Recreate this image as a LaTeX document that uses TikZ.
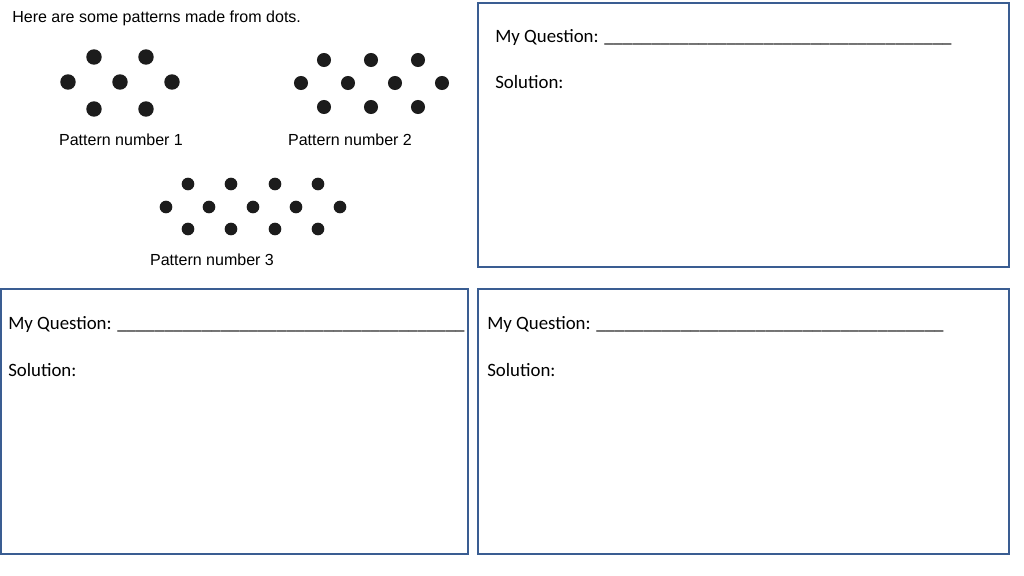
\documentclass[tikz,border=0pt]{standalone}
\usepackage{fontspec}
\setmainfont{Carlito}
\newfontfamily\arialfont{Liberation Sans}
\usetikzlibrary{positioning}

\definecolor{boxblue}{HTML}{3A5D92}
\definecolor{dotgrey}{HTML}{1C1C1C}

\newcommand{\blankline}{\_\_\_\_\_\_\_\_\_\_\_\_\_\_\_\_\_\_\_\_\_\_\_\_\_\_\_\_\_\_\_\_\_\_\_\_\_}

\tikzset{
  qbox/.style={draw=boxblue,line width=1.8pt},
  pdot/.style={circle,fill=dotgrey,inner sep=0pt},
  plabel/.style={anchor=base,inner sep=0pt,font=\arialfont\fontsize{11.4}{13}\selectfont},
  qtext/.style={anchor=base west,inner sep=0pt,font=\fontsize{13.4}{16}\selectfont}
}

\begin{document}
\begin{tikzpicture}[x=0.025cm,y=-0.025cm]
    \useasboundingbox (0,0) rectangle (1024,576);

    % title
    \node (title) [plabel,anchor=base west] at (12,23) {Here are some patterns made from dots.};

    % pattern 1
    \foreach \i/\x in {1/94,2/146} {
      \node (pa\i) [pdot,minimum size=11pt] at (\x,57) {};
      \node (pc\i) [pdot,minimum size=11pt] at (\x,109) {};
    }
    \foreach \i/\x in {1/68,2/120,3/172}
      \node (pb\i) [pdot,minimum size=11pt] at (\x,82) {};
    \node (lab1) [plabel] at (121,146) {Pattern number 1};

    % pattern 2
    \foreach \i/\x in {1/324,2/371,3/418} {
      \node (qa\i) [pdot,minimum size=10pt] at (\x,60) {};
      \node (qc\i) [pdot,minimum size=10pt] at (\x,107) {};
    }
    \foreach \i/\x in {1/301,2/348,3/395,4/442}
      \node (qb\i) [pdot,minimum size=10pt] at (\x,83) {};
    \node (lab2) [plabel] at (350,146) {Pattern number 2};

    % pattern 3
    \foreach \i/\x in {1/188,2/231,3/275,4/318} {
      \node (ra\i) [pdot,minimum size=9pt] at (\x,184) {};
      \node (rc\i) [pdot,minimum size=9pt] at (\x,229) {};
    }
    \foreach \i/\x in {1/166,2/209,3/253,4/296,5/340}
      \node (rb\i) [pdot,minimum size=9pt] at (\x,207) {};
    \node (lab3) [plabel] at (212,266) {Pattern number 3};

    % question boxes
    \draw[qbox] (478,3) rectangle (1009,267);
    \draw[qbox] (1,289) rectangle (468,554);
    \draw[qbox] (478,289) rectangle (1009,554);

    \node (q1) [qtext] at (495,43) {My Question: \blankline};
    \node (s1) [qtext] at (495,89) {Solution:};
    \node (q2) [qtext] at (8,330) {My Question: \blankline};
    \node (s2) [qtext] at (8,376) {Solution:};
    \node (q3) [qtext] at (487,330) {My Question: \blankline};
    \node (s3) [qtext] at (487,376) {Solution:};
\end{tikzpicture}
\end{document}
